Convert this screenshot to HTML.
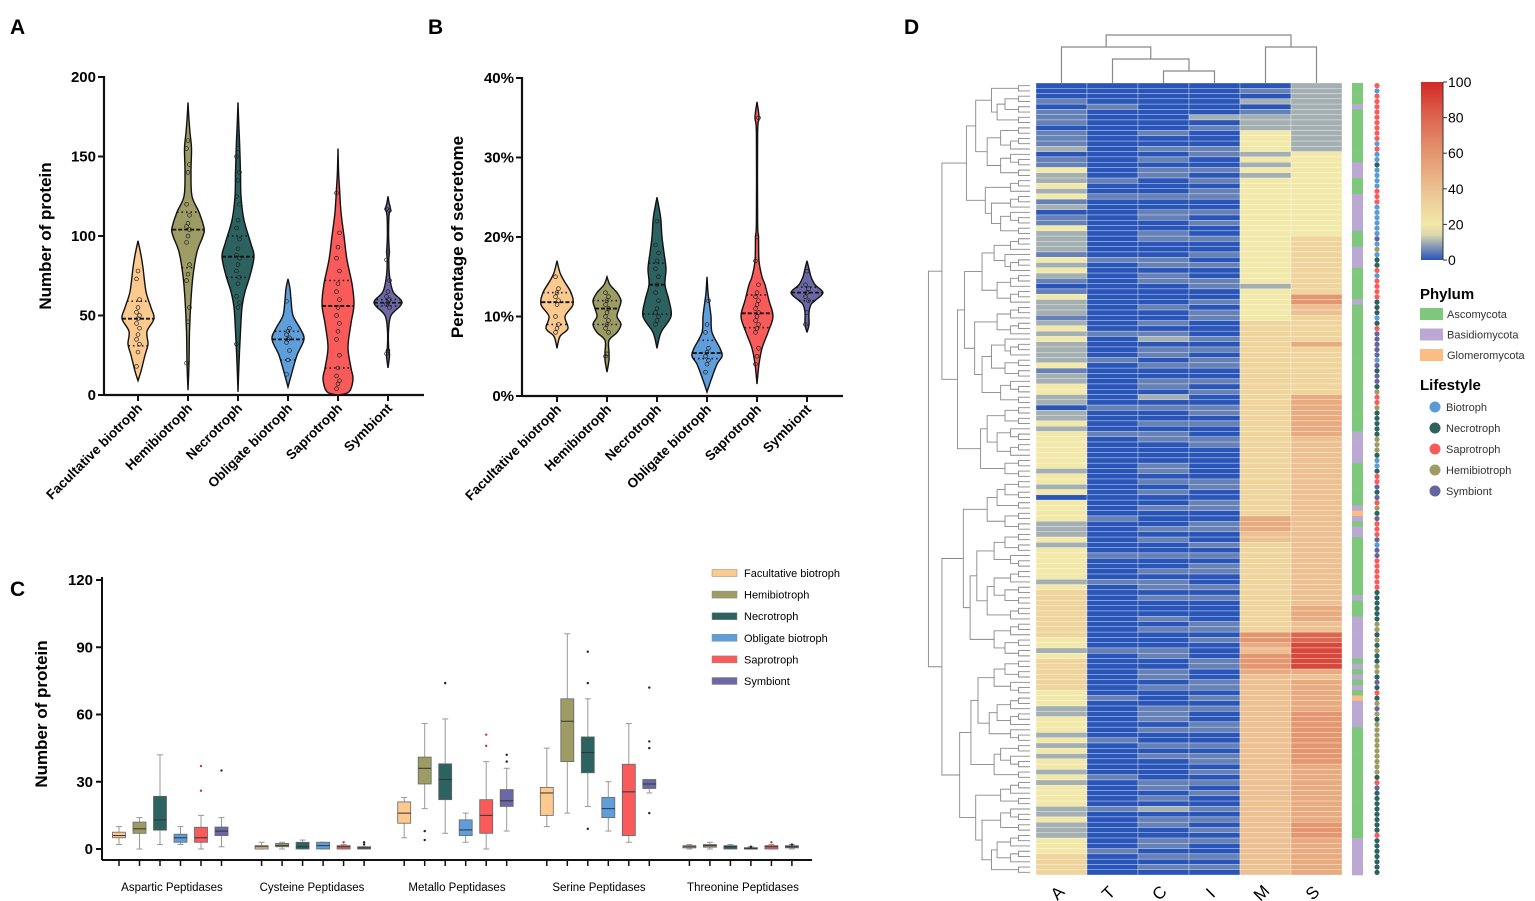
<!DOCTYPE html>
<html><head><meta charset="utf-8">
<style>
html,body{margin:0;padding:0;background:#fff;}
svg{display:block;font-family:"Liberation Sans",Arial,sans-serif;}
</style></head>
<body>
<svg id="fig" width="1535" height="901" viewBox="0 0 1535 901" xmlns="http://www.w3.org/2000/svg">
<text x="10" y="34" font-size="21" font-weight="bold">A</text>
<text x="428" y="34" font-size="21" font-weight="bold">B</text>
<text x="10" y="596" font-size="21" font-weight="bold">C</text>
<text x="904" y="34" font-size="21" font-weight="bold">D</text>
<g id="pa"></g>
<g id="pb"></g>
<g id="pc"></g>
<g id="pd"></g>
</svg>
<script>
// ---------- shared data ----------
const groups = ["Facultative biotroph","Hemibiotroph","Necrotroph","Obligate biotroph","Saprotroph","Symbiont"];
const groupColors = ["#fcc98f","#9e9c65","#2c625f","#5e9edb","#f95b5b","#6b68a5"];

// Panel A: violin density knots [value, relative half-width]
const violinA_fac  = [[9,0],[15,3],[25,7],[32,10],[40,9],[48,16],[55,13],[65,8],[80,5],[88,3],[97,0]];
const violinA_hemi = [[3,0],[20,1],[40,1.5],[60,3],[75,5],[90,9],[100,15],[105,16],[115,11],[125,4],[140,3],[155,3.5],[165,2],[175,0.8],[184,0]];
const violinA_nec  = [[2,0],[20,1],[40,2.5],[55,4],[65,7],[75,12],[87,16],[95,13],[110,6],[125,3],[140,2.5],[160,1.5],[170,0.8],[184,0]];
const violinA_obl  = [[5,0],[12,3],[25,9],[35,16],[42,12],[50,5],[60,3],[67,2],[73,0]];
const violinA_sap  = [[0,0],[2,11],[10,15],[17,13],[30,10],[45,13],[57,16],[70,14],[85,9],[100,6],[115,3],[130,1.5],[140,0.6],[155,0]];
const violinA_sym  = [[17,0],[25,1.5],[30,0.6],[40,0.5],[50,3],[58,14],[65,5],[75,1.5],[85,0.8],[90,1.3],[100,0.6],[113,1],[117,2.5],[121,1],[125,0]];
const statsA_median = [48,104,87,35,56,58];
const statsA_q1     = [31,80,74,22,17,56];
const statsA_q3     = [59,115,100,40,72,60];
const pointsA_fac  = [18,27,32,35,38,42,45,48,50,52,55,60,73,78];
const pointsA_hemi = [20,46,55,72,76,82,96,100,104,106,108,113,120,140,145,155,160];
const pointsA_nec  = [32,55,58,62,70,74,78,82,86,88,92,98,105,110,120,125,135,140,150,155];
const pointsA_obl  = [13,22,28,33,35,36,38,40,42,59];
const pointsA_sap  = [4,7,9,12,17,25,35,40,45,50,55,60,65,70,78,86,93,102,127];
const pointsA_sym  = [26,28,55,57,58,60,62,65,72,85,90,116,117];
const ticksA = [0,50,100,150,200];

// Panel B
const violinB_fac  = [[6,0],[7.5,3],[8.5,11],[10,8],[11.5,16],[13,14],[14.5,7],[15.5,3],[17,0]];
const violinB_hemi = [[3,0],[4.5,2],[5.5,2],[7,2],[8,10],[9,14],[10,10],[11,12],[12,14],[13,10],[14,3],[15,0]];
const violinB_nec  = [[6,0],[8,4],[10,14],[12,12],[14,8],[16,9],[18,7],[20,5],[22,4],[23,3],[25,0]];
const violinB_obl  = [[0.5,0],[2,4],[4,10],[5,15],[6,13],[8,5],[10,4],[12,2],[13,1],[15,0]];
const violinB_sap  = [[1.5,0],[4,2],[6,5],[8,11],[10,16],[12,12],[14,8],[15,5],[17,2],[20,1.5],[22,0.6],[33,0.6],[35,2],[37,0]];
const violinB_sym  = [[8,0],[9,2],[10.5,2],[11.5,4],[12,8],[13,16],[14,8],[15,4],[16,2],[17,0]];
const statsB_median = [11.8,11,14,5.4,10.4,13];
const statsB_q1     = [9,9,10.3,4.7,8.6,12];
const statsB_q3     = [13,12,16.7,7,12.7,13.7];
const pointsB_fac  = [8,8.5,9,10,11.5,12,12.5,13,13.5,15];
const pointsB_hemi = [5,5.3,8,8.5,9,9.5,10,10.5,11,11.5,12,12.5,13];
const pointsB_nec  = [9,9.5,10,10.5,11,12,13,14,15,16,17,18,19,22];
const pointsB_obl  = [3,4,4.5,5,5.5,6,8,9,12];
const pointsB_sap  = [4,5,6,8,8.5,9,9.5,10,10.5,11,11.5,12,12.5,13,14,17,20,35];
const pointsB_sym  = [9,10.5,12,12.5,13,13.5,14,15.7];
const ticksB = [0,10,20,30,40];

// Panel C: boxplots per class x group
const classesC = ["Aspartic Peptidases","Cysteine Peptidases","Metallo Peptidases","Serine Peptidases","Threonine Peptidases"];
const boxMed = [[6,9,13,5,5,8],[1,1.5,1,1.5,1,0.5],[16,36,31,8.5,15,21.5],[25,57,43,18,25.5,29],[1,1.5,1,0.3,1,1]];
const boxQ1  = [[5,7,8.4,3,3,6],[0,1,0,0,0,0],[11.5,29,22,6,7,19],[15,39,34,14,6,27],[0.5,0.8,0,0,0,0.5]];
const boxQ3  = [[7.5,12,23.5,6.6,9.7,9.8],[1.5,2.5,3,3,1.5,1],[21,41,38,13,22,26.5],[27.5,67,50,23,37.8,31],[1.5,2,1.5,0.6,1.5,1.5]];
const boxLo  = [[2,0,2,2,0,1],[0,0,0,0,0,0],[5,18,7,3,0,8],[10,16,19,8,3,25],[0,0,0,0,0,0]];
const boxHi  = [[10,14,42,10,15,14],[3,3,4,3,2,1],[23,56,58,16,39,36],[45,96,67,30,56,30],[2,3,2,1,2,2]];
const boxOut = [[[],[],[],[],[26,37],[35]],[[],[],[],[],[3],[2,3]],[[],[8,4],[74],[],[46,51],[39,42]],[[],[],[9,74,88],[],[],[16,45,48,72]],[[],[],[],[1],[3],[2]]];
const ticksC = [0,30,60,90,120];

// Panel D heatmap (each char base36 * 5 = value 0..100), 150 rows
const heatCols = ["A","T","C","I","M","S"];
const heatA = "0001011101"+"1120114224"+"2412011422"+"2214242101"+"4222124242"+"2224122442"+"2022424444"+"4442442404"+"4442224244"+"4444246666"+"6666644246"+"6666644422"+"4442424244"+"2424444224"+"2224446666";
const heatT = "0000100000"+"0000000010"+"0100000000"+"0001000000"+"0000000100"+"0010000000"+"0100001000"+"0000000000"+"0010000001"+"0000100000"+"0000000100"+"0000001000"+"0000100000"+"0100000100"+"0000010000";
const heatC = "0000000001"+"0010101100"+"0100110011"+"0001101100"+"0010010120"+"1101001102"+"0100101100"+"0011010100"+"1000101001"+"0010110100"+"0101000110"+"0110100011"+"1010010100"+"0011010201"+"1001101010";
const heatI = "0000002010"+"0011001010"+"1100101001"+"0010100110"+"0101100010"+"1011001010"+"0110100110"+"0000011001"+"1001100101"+"0110010100"+"0011010001"+"1001101010"+"0110010110"+"1010100101"+"0101001010";
const heatM = "0102012224"+"4442424244"+"4444444444"+"4444444424"+"4444466666"+"6666666666"+"6666666666"+"6666666666"+"66aaa88666"+"6666666666"+"6666cca8cc"+"ca88888888"+"8888888888"+"8888888888"+"8888888888";
const heatS = "2222222222"+"2224444444"+"4444444446"+"6666666666"+"cc8866666a"+"666666666a"+"aaaaaaa888"+"8888888888"+"8888888888"+"888888888a"+"aa88ggiiii"+"ia8aaaaaac"+"ccccccccca"+"aaaaaaaaaa"+"cccaaaaaaa";
const phylumRows = "ggggbggggg"+"gggggbbbgg"+"gbbbbbbbgg"+"gbbbbggggg"+"gbgggggggg"+"gggggggggg"+"ggggggbbbb"+"bbgggggggg"+"bobgbbgggg"+"gggggggbgg"+"gbbbbbbbbg"+"bgbgbgobbb"+"bbgggggggg"+"gggggggggg"+"gggbbbbbbb";
const lifeRows = "rlrrrrrrrr"+"rlrllnllll"+"rrrlllllls"+"lhlnnrlrrr"+"rnnnlnrsss"+"sslsnssnhr"+"rhnnnnnhhh"+"nllnrrsnsr"+"hnsrrrslss"+"rrrrrrnnnn"+"nnhhnhnhnn"+"hhnsnrnhsh"+"nhhhhhhhhh"+"hnrsnnnnnn"+"nnrnnnnnnn";
const colorbarTicks = [0,20,40,60,80,100];

// ---------- helpers ----------
const NS="http://www.w3.org/2000/svg";
function mk(tag,attrs,parent){const e=document.createElementNS(NS,tag);for(const k in attrs)e.setAttribute(k,attrs[k]);if(parent)parent.appendChild(e);return e;}
function smoothPath(pts){
  let d="M"+pts[0][0]+","+pts[0][1];
  for(let i=0;i<pts.length-1;i++){
    const p0=pts[Math.max(0,i-1)],p1=pts[i],p2=pts[i+1],p3=pts[Math.min(pts.length-1,i+2)];
    const c1=[p1[0]+(p2[0]-p0[0])/6,p1[1]+(p2[1]-p0[1])/6],c2=[p2[0]-(p3[0]-p1[0])/6,p2[1]-(p3[1]-p1[1])/6];
    d+=" C"+c1[0]+","+c1[1]+" "+c2[0]+","+c2[1]+" "+p2[0]+","+p2[1];
  }
  return d;
}

function violinPanel(g,opt){
  const y=v=>opt.y0-(v-opt.min)/(opt.max-opt.min)*(opt.y0-opt.y1);
  const x=i=>opt.xs0+i*opt.dx;
  let ax=mk("line",{x1:opt.ax,y1:opt.y1-1,x2:opt.ax,y2:opt.y0+1,stroke:"#111","stroke-width":2.2},g);
  
  
  let axx=mk("line",{x1:opt.ax,y1:opt.y0,x2:opt.axEnd,y2:opt.y0,stroke:"#111","stroke-width":2.2},g);
  
  
  opt.ticks.forEach(t=>{
    const tl=mk("line",{x1:opt.ax-6,x2:opt.ax,y1:y(t),y2:y(t),stroke:"#111","stroke-width":2},g);
    
    
    const tx=mk("text",{x:opt.ax-8,y:y(t)+5,"text-anchor":"end","font-size":15,"font-weight":"bold"},g);
    tx.textContent=t+opt.suffix;
    
    
  });
  const yt=mk("text",{transform:`translate(${opt.titleX},${(opt.y0+opt.y1)/2}) rotate(-90)`,"text-anchor":"middle","font-size":17,"font-weight":"bold"},g);
  yt.textContent=opt.title;
  
  
  opt.violins.forEach((kn,i)=>{
    const cx=x(i);
    const right=kn.map(k=>[cx+k[1],y(k[0])]);
    const left=kn.slice().reverse().map(k=>[cx-k[1],y(k[0])]);
    const d=smoothPath(right)+" L"+smoothPath(left).slice(1)+"Z";
    const p=mk("path",{d:d,fill:groupColors[i],stroke:"#111","stroke-width":1.4},g);
    
    
    const hw=v=>{for(let j=0;j<kn.length-1;j++){if(v>=kn[j][0]&&v<=kn[j+1][0]){const f=(v-kn[j][0])/(kn[j+1][0]-kn[j][0]);return kn[j][1]+f*(kn[j+1][1]-kn[j][1]);}}return 0;};
    const m=opt.med[i],w=hw(m);
    const ml=mk("line",{x1:cx-w,x2:cx+w,y1:y(m),y2:y(m),stroke:"#111","stroke-width":1.8,"stroke-dasharray":"4,2"},g);
    
    
    [opt.q1[i],opt.q3[i]].forEach(q=>{const wq=hw(q);
      const ql=mk("line",{x1:cx-wq,x2:cx+wq,y1:y(q),y2:y(q),stroke:"#111","stroke-width":1.5,"stroke-dasharray":"1.5,3"},g);
      
      
    });
    opt.points[i].forEach((v,j)=>{
      const c=mk("circle",{cx:cx+((j%3)-1)*1.5,cy:y(v),r:1.9,fill:"none",stroke:"#222","stroke-width":0.7},g);
      
      
    });
    const tk=mk("line",{x1:cx,x2:cx,y1:opt.y0,y2:opt.y0+6,stroke:"#111","stroke-width":2},g);
    
    
    const lb=mk("text",{transform:`translate(${cx+5},${opt.y0+14}) rotate(-45)`,"text-anchor":"end","font-size":13.5,"font-weight":"bold"},g);
    lb.textContent=groups[i];
    
    
  });
}

violinPanel(document.getElementById("pa"),{min:0,max:200,y0:395,y1:77,ax:104,axEnd:424,xs0:138,dx:50,ticks:ticksA,suffix:"",title:"Number of protein",titleX:51,
  violins:[violinA_fac,violinA_hemi,violinA_nec,violinA_obl,violinA_sap,violinA_sym],med:statsA_median,q1:statsA_q1,q3:statsA_q3,
  points:[pointsA_fac,pointsA_hemi,pointsA_nec,pointsA_obl,pointsA_sap,pointsA_sym]});
violinPanel(document.getElementById("pb"),{min:0,max:40,y0:396,y1:78,ax:522,axEnd:843,xs0:557,dx:50,ticks:ticksB,suffix:"%",title:"Percentage of secretome",titleX:463,
  violins:[violinB_fac,violinB_hemi,violinB_nec,violinB_obl,violinB_sap,violinB_sym],med:statsB_median,q1:statsB_q1,q3:statsB_q3,
  points:[pointsB_fac,pointsB_hemi,pointsB_nec,pointsB_obl,pointsB_sap,pointsB_sym]});

// ---------- Panel C ----------
(function(){
  const g=document.getElementById("pc");
  const y0=849,y1=580,ax=102;
  const y=v=>y0-v/120*(y0-y1);
  const gx=(c,i)=>119+c*142.6+i*20.5;
  let a=mk("line",{x1:ax,y1:y1-3,x2:ax,y2:860,stroke:"#111","stroke-width":2},g);
  
  
  let b=mk("line",{x1:ax,y1:860,x2:812,y2:860,stroke:"#111","stroke-width":2},g);
  
  
  ticksC.forEach(t=>{
    const tl=mk("line",{x1:ax-6,x2:ax,y1:y(t),y2:y(t),stroke:"#111","stroke-width":2},g);
    
    
    const tx=mk("text",{x:ax-9,y:y(t)+5,"text-anchor":"end","font-size":15,"font-weight":"bold"},g);
    tx.textContent=t;
    
    
  });
  const yt=mk("text",{transform:`translate(47,714) rotate(-90)`,"text-anchor":"middle","font-size":17,"font-weight":"bold"},g);
  yt.textContent="Number of protein";
  
  
  const labelX=[172,312,457,599,743];
  classesC.forEach((cn,c)=>{
    const lb=mk("text",{x:labelX[c],y:891,"text-anchor":"middle","font-size":11.5},g);
    lb.textContent=cn;
    
    
    for(let i=0;i<6;i++){
      const cx=gx(c,i);
      const tk=mk("line",{x1:cx,x2:cx,y1:860,y2:866,stroke:"#111","stroke-width":1.5},g);
      
      
      const wl=mk("line",{x1:cx,x2:cx,y1:y(boxHi[c][i]),y2:y(boxLo[c][i]),stroke:"#999","stroke-width":1},g);
      
      
      [boxHi[c][i],boxLo[c][i]].forEach(v=>{const cap=mk("line",{x1:cx-3,x2:cx+3,y1:y(v),y2:y(v),stroke:"#999","stroke-width":1},g);
        
        });
      const top=y(boxQ3[c][i]),bot=y(boxQ1[c][i]);
      const r=mk("rect",{x:cx-6.5,y:top,width:13,height:Math.max(1.5,bot-top),fill:groupColors[i],stroke:"#666","stroke-width":0.8},g);
      
      
      const ml=mk("line",{x1:cx-6.5,x2:cx+6.5,y1:y(boxMed[c][i]),y2:y(boxMed[c][i]),stroke:"#333","stroke-width":1},g);
      
      
      boxOut[c][i].forEach(v=>{const o=mk("circle",{cx:cx,cy:y(v),r:1.2,fill:i==4?"#c33":"#222"},g);
        
        });
    }
  });
  groups.forEach((gn,i)=>{
    const ly=573+i*21.6;
    const s=mk("rect",{x:712,y:ly-3.5,width:25,height:7,fill:groupColors[i],stroke:"#888","stroke-width":0.5},g);
    
    
    const t=mk("text",{x:744,y:ly+4,"font-size":11},g);
    t.textContent=gn;
    
    
  });
})();

// ---------- Panel D ----------
(function(){
  const g=document.getElementById("pd");
  const top=83,bot=875,nR=150,rh=(bot-top)/nR,x0=1036,cw=51;
  const stops=[[0,[42,85,184]],[8,[138,156,180]],[14,[216,214,172]],[20,[242,232,168]],[40,[236,192,144]],[60,[228,150,110]],[80,[220,102,80]],[100,[211,40,38]]];
  const cmap=v=>{for(let j=0;j<stops.length-1;j++){if(v<=stops[j+1][0]){const f=(v-stops[j][0])/(stops[j+1][0]-stops[j][0]);const c=stops[j][1].map((a,k)=>Math.round(a+f*(stops[j+1][1][k]-a)));return `rgb(${c})`;}}return "rgb(211,40,38)";};
  const cols=[heatA,heatT,heatC,heatI,heatM,heatS];
  cols.forEach((s,ci)=>{
    for(let r=0;r<nR;r++){
      const v=parseInt(s[r],36)*5;
      const cell=mk("rect",{x:x0+ci*cw,y:top+r*rh,width:cw,height:rh,fill:cmap(v),stroke:"#fff","stroke-width":0.45,"stroke-opacity":0.7},g);
      
      
    }
    const lb=mk("text",{transform:`translate(${x0+ci*cw+cw/2},897) rotate(-45)`,"text-anchor":"middle","font-size":17},g);
    lb.textContent=heatCols[ci];
    
    
  });
  const phyC={g:"#7dc87a",b:"#bba8d3",o:"#fcbd84"};
  const lifeC={l:"#5b9bd5",n:"#2c625f",r:"#f95b5b",h:"#9e9c65",s:"#6564a0"};
  for(let r=0;r<nR;r++){
    const pr=mk("rect",{x:1352,y:top+r*rh,width:11,height:rh+0.3,fill:phyC[phylumRows[r]]},g);
    
    
    const lc=mk("circle",{cx:1377,cy:top+(r+0.5)*rh,r:2.6,fill:lifeC[lifeRows[r]]},g);
    
    
  }
  const cx=i=>x0+i*cw+cw/2;
  const dg=mk("g",{stroke:"#888","stroke-width":1.2,fill:"none"},g);
  
  
  const link=(xa,ya,xb,yb,yj)=>mk("path",{d:`M${xa},${ya}V${yj}H${xb}V${yb}`},dg);
  link(cx(2),83,cx(3),83,71);
  const ci_=(cx(2)+cx(3))/2;
  link(cx(1),83,ci_,71,59);
  const tci=(cx(1)+ci_)/2;
  link(cx(0),83,tci,59,47);
  link(cx(4),83,cx(5),83,47);
  link((cx(0)+tci)/2,47,(cx(4)+cx(5))/2,47,35);
  const lg=mk("g",{stroke:"#888","stroke-width":0.9,fill:"none"},g);
  
  
  const ratios=[0.5,0.38,0.62,0.45,0.3,0.55,0.7,0.42];
  let k=0;
  function build(a,b){
    const n=b-a;
    if(n===1){return [1030,top+(a+0.5)*rh];}
    const r=ratios[k++%ratios.length];
    let m=a+Math.max(1,Math.min(n-1,Math.round(n*r)));
    const L=build(a,m),R=build(m,b);
    const xn=1032-13.5*Math.log2(n)-(n>60?6:0);
    mk("path",{d:`M${L[0]},${L[1]}H${xn}V${R[1]}H${R[0]}`},lg);
    return [xn,(L[1]+R[1])/2];
  }
  build(0,nR);
  const defs=mk("defs",{},g);
  const gr=mk("linearGradient",{id:"cb",x1:0,y1:1,x2:0,y2:0},defs);
  stops.forEach(s=>mk("stop",{offset:s[0]+"%","stop-color":`rgb(${s[1]})`},gr));
  const cb=mk("rect",{x:1421,y:82,width:22,height:178,fill:"url(#cb)"},g);
  
  
  mk("line",{x1:1443,x2:1443,y1:82,y2:260,stroke:"#333","stroke-width":1},g);
  colorbarTicks.forEach(t=>{
    const yy=260-t/100*178;
    mk("line",{x1:1443,x2:1447,y1:yy,y2:yy,stroke:"#333","stroke-width":1},g);
    const tx=mk("text",{x:1448,y:yy+5,"font-size":14},g);
    tx.textContent=t;
    
    
  });
  const ph=mk("text",{x:1420,y:299,"font-size":15,"font-weight":"bold"},g);
  ph.textContent="Phylum";
  
  
  [["Ascomycota","g"],["Basidiomycota","b"],["Glomeromycota","o"]].forEach((e,i)=>{
    const yy=314+i*20.5;
    mk("rect",{x:1420,y:yy-6,width:23,height:12,fill:phyC[e[1]]},g);
    const t=mk("text",{x:1447,y:yy+4,"font-size":11,fill:"#333"},g);
    t.textContent=e[0];
    
    
  });
  const ls=mk("text",{x:1420,y:390,"font-size":15,"font-weight":"bold"},g);
  ls.textContent="Lifestyle";
  
  
  [["Biotroph","l"],["Necrotroph","n"],["Saprotroph","r"],["Hemibiotroph","h"],["Symbiont","s"]].forEach((e,i)=>{
    const yy=407+i*21;
    mk("circle",{cx:1435,cy:yy,r:5.5,fill:lifeC[e[1]]},g);
    const t=mk("text",{x:1446,y:yy+4,"font-size":11,fill:"#333"},g);
    t.textContent=e[0];
    
    
  });
})();
</script>
</body></html>
